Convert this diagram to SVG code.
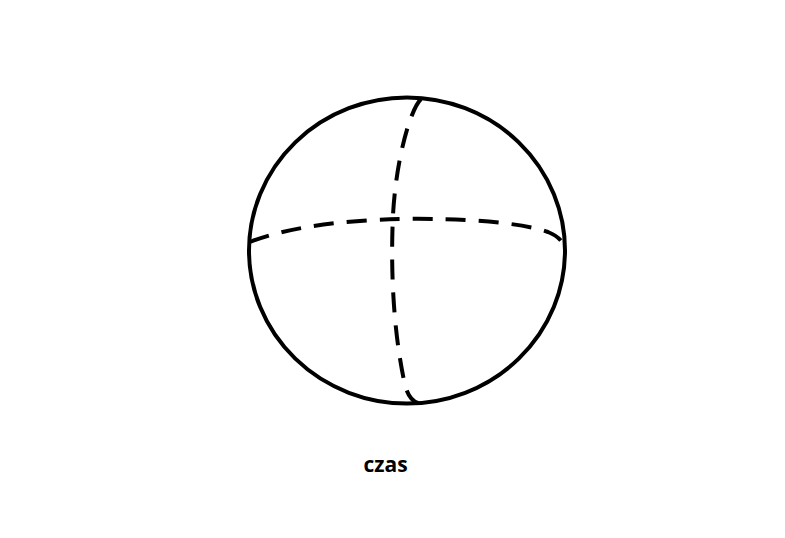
<svg xmlns="http://www.w3.org/2000/svg" width="785" height="538" viewBox="0 0 785 538">
<style>
.outline{fill:none;stroke:#000;stroke-width:4}
.dash{fill:none;stroke:#000;stroke-width:4;stroke-dasharray:20 13}
.label{font-family:"Open Sans","Liberation Sans",sans-serif;font-weight:bold;font-size:21px;fill:#000}
</style>
<rect width="785" height="538" fill="#fff"/>
<g id="sphere">
<ellipse class="outline" cx="407" cy="250.5" rx="158" ry="153"/>
</g>
<g id="connectors">
<path class="dash" d="M250,242 C290,226 350,220 400,219 C460,218 520,222 548,232 C558,236 564,242 565,250"/>
<path class="dash" d="M421,99 C410,110 396,160 393,215 C390,280 395,340 405,385 C408,396 412,401 418,403"/>
</g>
<g id="label">
<text class="label" x="385.5" y="472" text-anchor="middle">czas</text>
</g>
</svg>
